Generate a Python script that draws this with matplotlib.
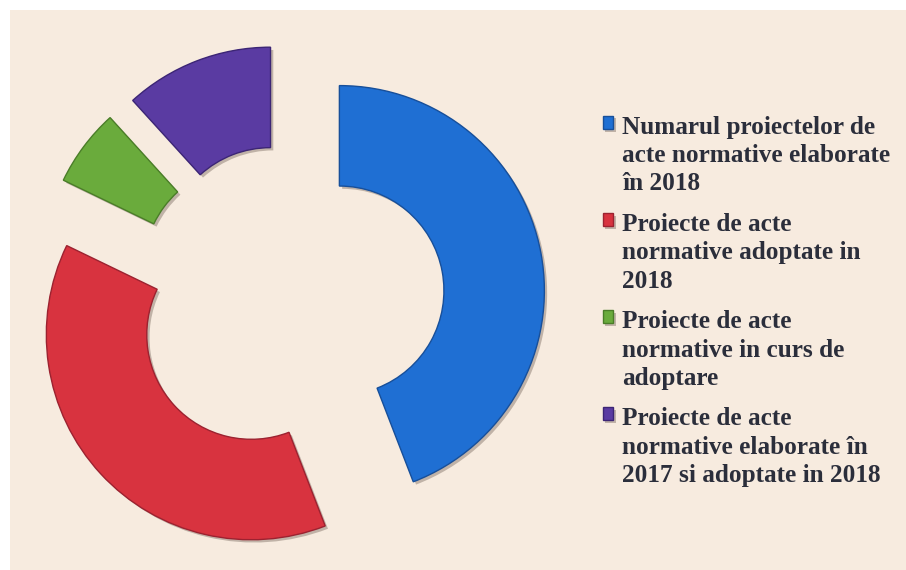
import matplotlib
matplotlib.use("Agg")
import matplotlib.pyplot as plt
import matplotlib.patheffects as pe
from matplotlib.patches import Rectangle

# data (slice shares)
labels = [
    "Numarul proiectelor de\nacte normative elaborate\nîn 2018",
    "Proiecte de acte\nnormative adoptate in\n2018",
    "Proiecte de acte\nnormative in curs de\nadoptare",
    "Proiecte de acte\nnormative elaborate în\n2017 si adoptate in 2018",
]
values = [94, 81, 13, 25]
colors = ["#1f6fd3", "#d8333f", "#6aab3c", "#5a3ba2"]
edge_colors = ["#174f9a", "#9c2230", "#4a7d28", "#3c2575"]

bg = "#f7ebdf"

fig = plt.figure(figsize=(9.06, 5.70), dpi=100)
fig.patch.set_facecolor("white")
fig.patches.append(Rectangle((10 / 906, 0), 1, 560 / 570, transform=fig.transFigure,
                             facecolor=bg, edgecolor="none", zorder=-10))

# pie axes: centre at ~ (289, 300) px from top-left, radius ~205 px
lim = 1.4
size = 2 * lim * 205
cx, cy = 289, 570 - 300
ax = fig.add_axes([(cx - size / 2) / 906, (cy - size / 2) / 570, size / 906, size / 570])

wedges, _ = ax.pie(values, colors=colors, startangle=90, counterclock=False,
                   explode=[0.25] * len(values), radius=1,
                   wedgeprops=dict(width=0.49, linewidth=1.0))
for w, ec in zip(wedges, edge_colors):
    w.set_edgecolor(ec)
    w.set_path_effects([pe.SimplePatchShadow(offset=(2, -2), shadow_rgbFace="#5a4a40", alpha=0.35),
                        pe.Normal()])
ax.set_xlim(-lim, lim)
ax.set_ylim(-lim, lim)
ax.set_aspect("equal")
ax.axis("off")

leg = fig.legend(wedges, labels, loc="upper left", bbox_to_anchor=(590 / 906, 1 - 103 / 570),
                 frameon=False, handlelength=0.42, handleheight=0.42, handletextpad=0.36,
                 labelspacing=0.69, borderpad=0,
                 prop=dict(family="Liberation Serif", weight="bold", size=18.2))
for t in leg.get_texts():
    t.set_color("#2b2e3b")
    t.set_linespacing(1.3)
# put the marker next to the first line of each entry
for col in leg._legend_handle_box.get_children():
    for row in col.get_children():
        row.align = "top"

fig.savefig("out.png", dpi=100, facecolor=fig.get_facecolor())
